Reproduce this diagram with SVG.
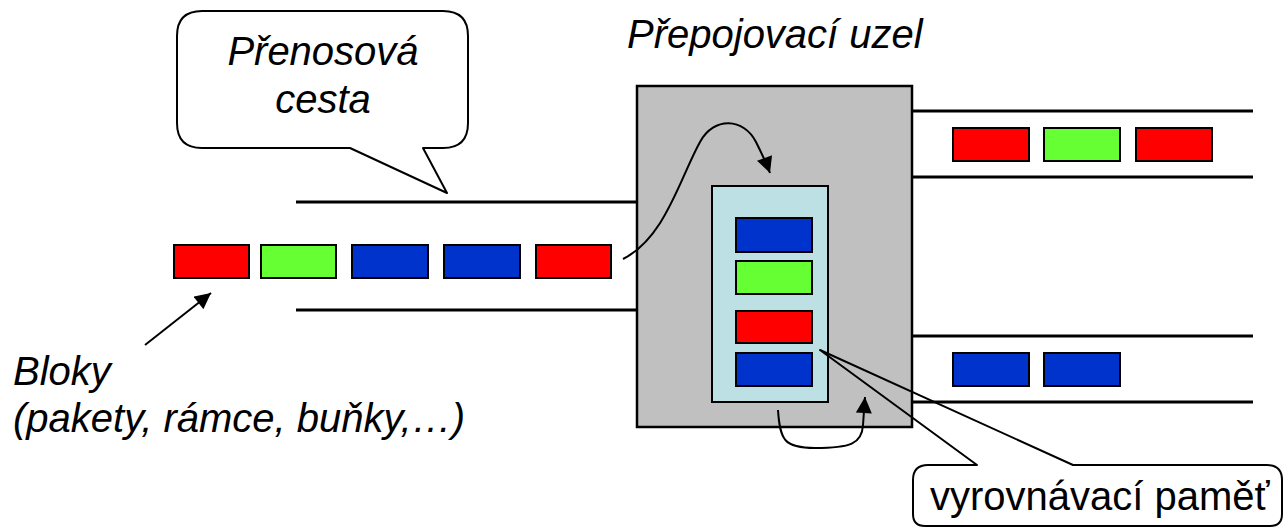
<svg xmlns="http://www.w3.org/2000/svg" width="1285" height="528" viewBox="0 0 1285 528">
  <style>
    .lbl { font-family: "Liberation Sans", Arial, sans-serif; font-size: 40px; fill: #000; }
    .it { font-style: italic; }
    .chan { stroke: #000; stroke-width: 3; fill: none; }
    .blk { stroke: #000; stroke-width: 2; }
    .red { fill: #FF0000; }
    .green { fill: #66FF33; }
    .blue { fill: #0033CC; }
    .bubble { stroke: #000; stroke-width: 2; stroke-linejoin: round; }
    .flow { stroke: #000; stroke-width: 2; fill: none; }
  </style>
  <defs>
    <marker id="head" viewBox="0 0 10 10" refX="10" refY="5" markerUnits="userSpaceOnUse" markerWidth="17" markerHeight="16" orient="auto">
      <path d="M0,0 L10,5 L0,10 z" fill="#000"/>
    </marker>
  </defs>

  <rect width="1285" height="528" fill="#fff"/>

  <!-- incoming transmission path -->
  <g id="input-path">
    <line class="chan" x1="296" y1="202" x2="637" y2="202"/>
    <line class="chan" x1="296" y1="310" x2="637" y2="310"/>
  </g>

  <!-- outgoing paths -->
  <g id="output-path-1">
    <line class="chan" x1="912" y1="111" x2="1253" y2="111"/>
    <line class="chan" x1="912" y1="177" x2="1253" y2="177"/>
    <rect class="blk red" x="953" y="128" width="76" height="33"/>
    <rect class="blk green" x="1044" y="128" width="76" height="33"/>
    <rect class="blk red" x="1136" y="128" width="76" height="33"/>
  </g>
  <g id="output-path-2">
    <line class="chan" x1="912" y1="336" x2="1253" y2="336"/>
    <line class="chan" x1="912" y1="402" x2="1253" y2="402"/>
    <rect class="blk blue" x="953" y="353" width="76" height="33"/>
    <rect class="blk blue" x="1044" y="353" width="76" height="33"/>
  </g>

  <!-- blocks arriving on the input path -->
  <g id="blocks">
    <rect class="blk red" x="174" y="245" width="75" height="33"/>
    <rect class="blk green" x="261" y="245" width="75" height="33"/>
    <rect class="blk blue" x="352" y="245" width="76" height="33"/>
    <rect class="blk blue" x="444" y="245" width="76" height="33"/>
    <rect class="blk red" x="536" y="245" width="75" height="33"/>
  </g>

  <!-- switching node -->
  <g id="switch-node">
    <rect x="637" y="86" width="275" height="341" fill="#C0C0C0" stroke="#000" stroke-width="2.5"/>
  </g>

  <!-- buffer inside the node -->
  <g id="buffer">
    <rect x="712" y="186" width="116" height="216" fill="#BCE0E3" stroke="#000" stroke-width="2"/>
    <rect class="blk blue" x="736" y="218" width="76" height="34"/>
    <rect class="blk green" x="736" y="261" width="76" height="33"/>
    <rect class="blk red" x="736" y="311" width="76" height="32"/>
    <rect class="blk blue" x="736" y="353" width="76" height="33"/>
  </g>

  <!-- connectors -->
  <g id="connectors">
    <path class="flow" marker-end="url(#head)" d="M623,259 C665,238 680,178 700,142 C714,116 744,118 756,142 C762,154 766,162 770,173"/>
    <path class="flow" marker-end="url(#head)" d="M778,410 C780,440 784,448 815,448 C850,448 862,444 863,425 L865,397"/>
    <line class="flow" x1="145" y1="345" x2="211" y2="293" marker-end="url(#head)"/>
  </g>

  <!-- callout: transmission path -->
  <g id="callout-path">
    <path class="bubble" fill="#fff" d="M202,11 H443 Q468,11 468,36 V123 Q468,148 443,148 H423 L447,193 L350,148 H202 Q177,148 177,123 V36 Q177,11 202,11 Z"/>
    <text class="lbl it" x="323" y="65" text-anchor="middle">Přenosová</text>
    <text class="lbl it" x="323" y="113" text-anchor="middle">cesta</text>
  </g>

  <!-- callout: buffer memory -->
  <g id="callout-buffer">
    <path class="bubble" fill="none" d="M913,480 Q913,465 928,465 H977 L820,350 L1073,465 H1267 Q1282,465 1282,480 V514 Q1282,526 1270,526 H925 Q913,526 913,514 Z"/>
    <text class="lbl" x="930" y="510">vyrovnávací paměť</text>
  </g>

  <!-- node title -->
  <g id="node-title">
    <text class="lbl it" x="627" y="48">Přepojovací uzel</text>
  </g>

  <!-- blocks label -->
  <g id="blocks-label">
    <text class="lbl it" x="13" y="385">Bloky</text>
    <text class="lbl it" x="13" y="432">(pakety, rámce, buňky,…)</text>
  </g>
</svg>
